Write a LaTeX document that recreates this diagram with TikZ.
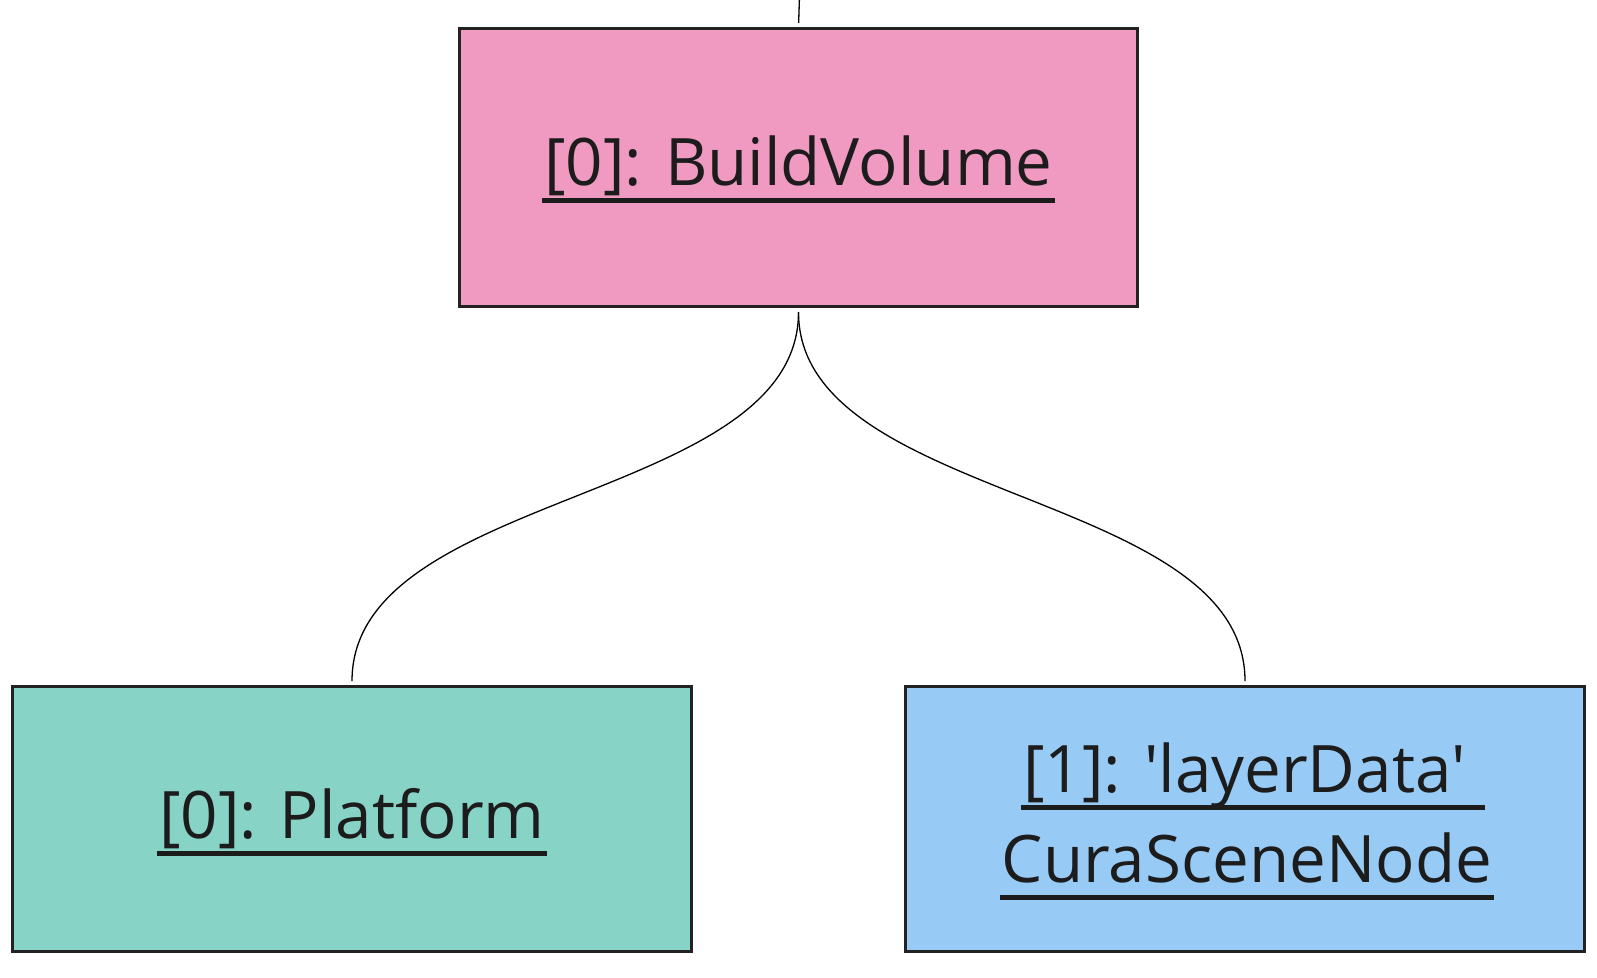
\documentclass[tikz,border=0pt]{standalone}
\usepackage{fontspec}
\newfontfamily\lblfont{Open Sans}
\definecolor{pinkfill}{HTML}{F09AC2}
\definecolor{greenfill}{HTML}{87D3C5}
\definecolor{bluefill}{HTML}{97CBF5}
\definecolor{edgecol}{HTML}{222222}
\definecolor{textcol}{HTML}{1C1C1C}
\newcommand\myul[1]{\leavevmode\setbox0\hbox{#1}\rlap{\kern-2pt\raisebox{-17.5pt}{\rule{\dimexpr\wd0+4pt\relax}{4.5pt}}}\box0}
\tikzset{
  box/.style={draw=edgecol, line width=3pt, rectangle, minimum width=679pt, minimum height=265pt, inner sep=0pt},
  lbl/.style={font=\lblfont\fontsize{65.5pt}{90pt}\selectfont, text=textcol, inner sep=0pt, anchor=base},
  link/.style={draw=black, line width=1.3pt, shorten <=4pt, shorten >=4pt}
}
\begin{document}
\begin{tikzpicture}[x=1pt,y=1pt]
\useasboundingbox (0,0) rectangle (1597,-977);
\node[box, fill=pinkfill, minimum width=678pt, minimum height=278pt] (bv) at (798.5,-167.5) {};
\node[box, fill=greenfill] (pf) at (352,-819) {};
\node[box, fill=bluefill] (cs) at (1245,-819) {};
\node[lbl] (bvt) at ([yshift=-17.5pt]bv.center) {\myul{[0]: BuildVolume}};
\node[lbl] (pft) at ([yshift=-19pt]pf.center) {\myul{[0]: Platform}};
\node[lbl] (cst1) at ([xshift=8pt,yshift=27pt]cs.center) {\myul{[1]: 'layerData'\ }};
\node[lbl] (cst2) at ([xshift=2pt,yshift=-63pt]cs.center) {\myul{CuraSceneNode}};
\coordinate (top) at (799.5,4);
\draw[link, shorten <=0pt] (top) -- (bv.north);
\draw[link] (bv.south) .. controls +(0,-195) and +(0,195) .. (pf.north);
\draw[link] (bv.south) .. controls +(0,-195) and +(0,195) .. (cs.north);
\end{tikzpicture}
\end{document}
